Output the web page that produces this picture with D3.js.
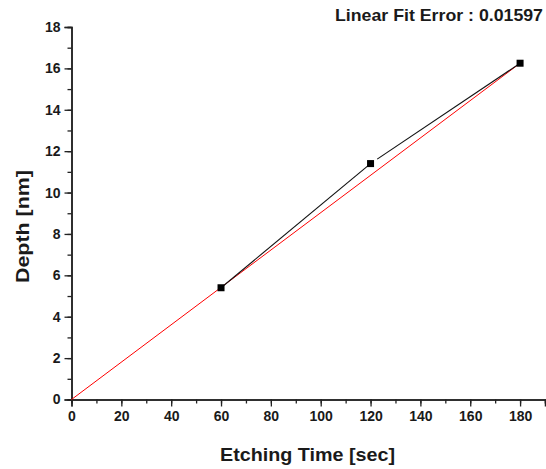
<!DOCTYPE html>
<html><head><meta charset="utf-8">
<script src="https://cdn.jsdelivr.net/npm/d3@7/dist/d3.min.js"></script>
<style>body{margin:0;background:#fff}svg{display:block}</style>
</head><body><svg id="c" width="546" height="469"></svg>
<script>
const timeSec = [60, 120, 180];
const depthNm = [5.4, 11.4, 16.25];
const fitX = [0, 180];
const fitY = [0, 16.25];
const xTicks = [0,20,40,60,80,100,120,140,160,180];
const yTicks = [0,2,4,6,8,10,12,14,16,18];
const fitLabel = "Linear Fit Error : 0.01597";
const xTitle = "Etching Time [sec]";
const yTitle = "Depth [nm]";

const svg = d3.select("#c");
const x = d3.scaleLinear().domain([0,190]).range([71.5,545]);
const y = d3.scaleLinear().domain([0,18]).range([399.5,27]);
const font = "Arial, 'Liberation Sans', sans-serif";
const ink = "#1a1a1a";

const xMinor = d3.range(0,191,10);
const yMinor = d3.range(0,18.01,1);

function styleText(sel){
  sel.selectAll("text").attr("font-family",font).attr("font-weight","bold")
    .attr("font-size","14px").attr("fill",ink);
}

svg.append("g").attr("transform","translate(0,399.5)")
  .call(d3.axisBottom(x).tickValues(xMinor).tickSize(4).tickFormat(""));
const gx2 = svg.append("g").attr("transform","translate(0,399.5)")
  .call(d3.axisBottom(x).tickValues(xTicks).tickSize(7).tickPadding(5).tickFormat(d3.format("d")));
styleText(gx2);

svg.append("g").attr("transform","translate(71.5,0)")
  .call(d3.axisLeft(y).tickValues(yMinor).tickSize(4).tickFormat(""));
const gy2 = svg.append("g").attr("transform","translate(71.5,0)")
  .call(d3.axisLeft(y).tickValues(yTicks).tickSize(7).tickPadding(4).tickFormat(d3.format("d")));
styleText(gy2);

svg.selectAll(".domain").attr("stroke","#222").attr("stroke-width",1.5);
svg.selectAll(".tick line").attr("stroke","#222").attr("stroke-width",1.3);

// fit line
svg.append("path")
  .datum(fitX.map((v,i)=>[v,fitY[i]]))
  .attr("d", d3.line().x(d=>x(d[0])).y(d=>y(d[1])))
  .attr("fill","none").attr("stroke","#ff0000").attr("stroke-width",1);

// data line (segments; gap after the middle marker as in reference)
const pts = timeSec.map((v,i)=>[v,depthNm[i]]);
const gap = [0, 8];
for(let i=0;i<pts.length-1;i++){
  const x0=x(pts[i][0]), y0=y(pts[i][1]), x1=x(pts[i+1][0]), y1=y(pts[i+1][1]);
  const L=Math.hypot(x1-x0,y1-y0), ux=(x1-x0)/L, uy=(y1-y0)/L;
  svg.append("line")
    .attr("x1",x0+ux*gap[i]).attr("y1",y0+uy*gap[i])
    .attr("x2",x1).attr("y2",y1)
    .attr("stroke","#111").attr("stroke-width",1.1);
}

svg.selectAll("rect.pt").data(pts).enter().append("rect")
  .attr("class","pt")
  .attr("x",d=>x(d[0])-3.5).attr("y",d=>y(d[1])-3.5)
  .attr("width",7).attr("height",7).attr("fill","#000");

svg.append("text").attr("x",335).attr("y",21)
  .attr("font-family",font).attr("font-weight","bold").attr("font-size","17px")
  .attr("textLength",208).attr("lengthAdjust","spacingAndGlyphs")
  .attr("fill",ink).text(fitLabel);

svg.append("text").attr("x",220).attr("y",461)
  .attr("font-family",font).attr("font-weight","bold").attr("font-size","19px")
  .attr("textLength",175).attr("lengthAdjust","spacingAndGlyphs")
  .attr("fill",ink).text(xTitle);

svg.append("text").attr("transform","translate(29,283) rotate(-90)")
  .attr("font-family",font).attr("font-weight","bold").attr("font-size","19px")
  .attr("textLength",113).attr("lengthAdjust","spacingAndGlyphs")
  .attr("fill",ink).text(yTitle);
</script></body></html>
